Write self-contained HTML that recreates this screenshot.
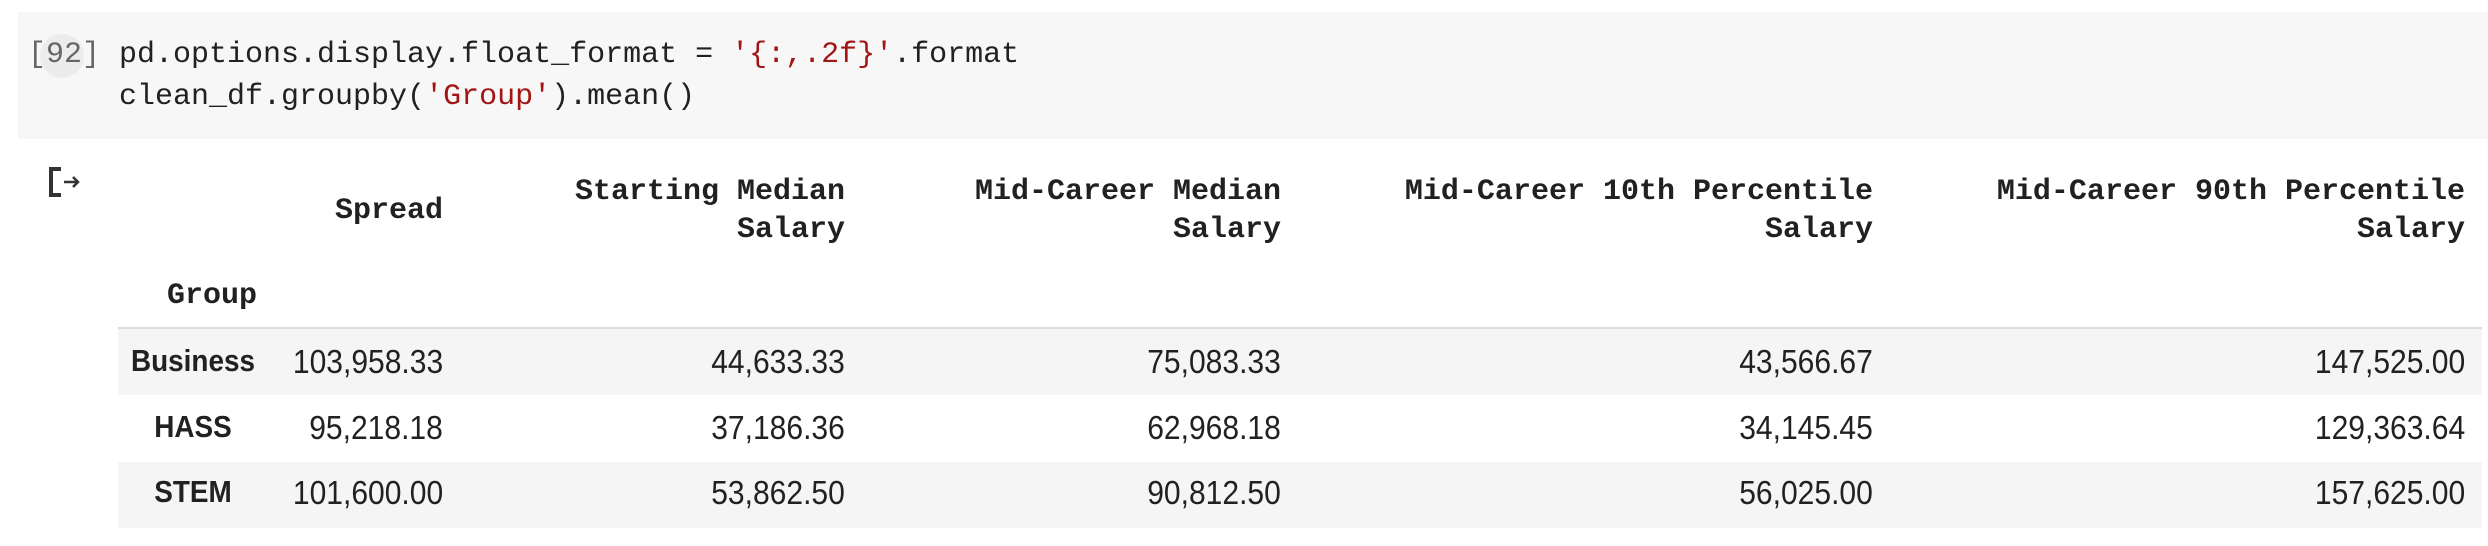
<!DOCTYPE html>
<html><head><meta charset="utf-8"><style>
body{margin:0;width:2488px;height:546px;background:#fff;position:relative;overflow:hidden;font-family:"Liberation Sans",sans-serif;color:#212121}
.a{position:absolute;white-space:pre}
.mono{font-family:"Liberation Mono",monospace;font-size:30px}
.hd{font-family:"Liberation Mono",monospace;font-size:30px;font-weight:bold;text-align:right;line-height:38px}
.num{font-size:33px;text-align:right;transform:scaleX(0.91);transform-origin:right center}
.lbl{font-size:31px;font-weight:bold;text-align:center;width:150px;left:118px;transform:scaleX(0.9)}
.row{position:absolute;left:118px;width:2364px}
.s{color:#a31515}
</style></head><body>
<div class="a" style="left:18px;top:12px;width:2470px;height:127px;background:#f7f7f7"></div>
<div class="a" style="left:40px;top:34px;width:44px;height:44px;border-radius:22px;background:#ececec"></div>
<div class="a mono" style="left:28px;top:38px;color:#666">[92]</div>
<div class="a mono" style="left:119px;top:38px">pd.options.display.float_format = <span class="s">'{:,.2f}'</span>.format</div>
<div class="a mono" style="left:119px;top:80px">clean_df.groupby(<span class="s">'Group'</span>).mean()</div>
<svg class="a" style="left:48px;top:166px" width="34" height="32" viewBox="0 0 34 32"><path d="M13 3H3v26h10" fill="none" stroke="#333" stroke-width="4"/><path d="M16 16h14M25 11l5 5-5 5" fill="none" stroke="#333" stroke-width="2.5"/></svg>

<div class="a hd" style="right:2045px;top:192px">Spread</div>
<div class="a hd" style="right:1643px;top:173px">Starting Median
Salary</div>
<div class="a hd" style="right:1207px;top:173px">Mid-Career Median
Salary</div>
<div class="a hd" style="right:615px;top:173px">Mid-Career 10th Percentile
Salary</div>
<div class="a hd" style="right:23px;top:173px">Mid-Career 90th Percentile
Salary</div>
<div class="a hd" style="left:167px;top:277px">Group</div>

<div class="row" style="top:327px;height:2px;background:#ddd"></div>
<div class="row" style="top:329px;height:66px;background:#f5f5f5"></div>
<div class="row" style="top:462px;height:66px;background:#f5f5f5"></div>

<div class="a lbl" style="top:343px">Business</div>
<div class="a lbl" style="top:409px">HASS</div>
<div class="a lbl" style="top:474px">STEM</div>

<div class="a num" style="right:2045px;top:343px">103,958.33</div>
<div class="a num" style="right:1643px;top:343px">44,633.33</div>
<div class="a num" style="right:1207px;top:343px">75,083.33</div>
<div class="a num" style="right:615px;top:343px">43,566.67</div>
<div class="a num" style="right:23px;top:343px">147,525.00</div>

<div class="a num" style="right:2045px;top:409px">95,218.18</div>
<div class="a num" style="right:1643px;top:409px">37,186.36</div>
<div class="a num" style="right:1207px;top:409px">62,968.18</div>
<div class="a num" style="right:615px;top:409px">34,145.45</div>
<div class="a num" style="right:23px;top:409px">129,363.64</div>

<div class="a num" style="right:2045px;top:474px">101,600.00</div>
<div class="a num" style="right:1643px;top:474px">53,862.50</div>
<div class="a num" style="right:1207px;top:474px">90,812.50</div>
<div class="a num" style="right:615px;top:474px">56,025.00</div>
<div class="a num" style="right:23px;top:474px">157,625.00</div>
</body></html>
